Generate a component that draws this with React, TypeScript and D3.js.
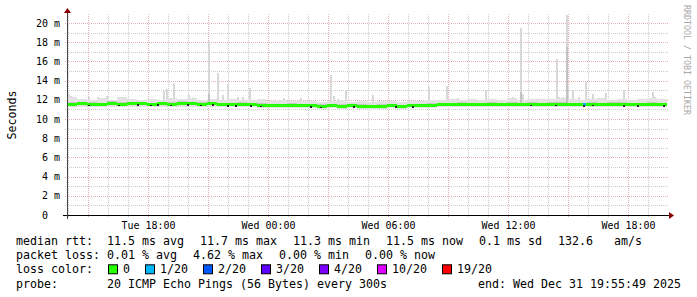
import React from "react";
import * as d3 from "d3";

// ---- data ----
const END = new Date(2025, 11, 31, 19, 55, 49);
const HOURS = 30;
const BIN_MIN = 30;
const Y_MAX_MS = 20.8333;

const medianMs = [
  11.55, 11.6, 11.55, 11.5, 11.6, 11.55, 11.6, 11.6, 11.55, 11.6, 11.55, 11.6,
  11.6, 11.55, 11.6, 11.55, 11.5, 11.55, 11.5, 11.45, 11.45, 11.4, 11.45, 11.4,
  11.4, 11.35, 11.4, 11.35, 11.4, 11.35, 11.3, 11.35, 11.4, 11.35, 11.4, 11.4,
  11.45, 11.5, 11.5, 11.55, 11.5, 11.5, 11.55, 11.5, 11.55, 11.5, 11.55, 11.5,
  11.55, 11.5, 11.55, 11.5, 11.55, 11.5, 11.55, 11.5, 11.55, 11.5, 11.5, 11.5,
];
const smokeHiMs = [
  12.3, 12.1, 12.0, 12.2, 12.0, 12.3, 12.1, 12.0, 12.1, 12.0, 12.2, 12.1,
  12.2, 12.0, 12.1, 12.0, 12.1, 12.0, 12.0, 12.1, 11.9, 12.0, 11.9, 11.9,
  11.9, 11.8, 11.9, 12.0, 11.8, 11.9, 11.8, 11.9, 11.9, 11.8, 11.9, 11.9,
  12.0, 12.0, 12.1, 12.0, 12.1, 12.0, 12.1, 12.0, 12.2, 12.0, 12.1, 12.1,
  12.1, 12.2, 12.1, 12.0, 12.1, 12.2, 12.0, 12.1, 12.0, 12.1, 12.2, 12.1,
];
const smokeMidMs = [
  11.8, 11.75, 11.75, 11.7, 11.85, 11.75, 11.8, 11.75, 11.7, 11.8, 11.75, 11.85,
  11.8, 11.75, 11.8, 11.7, 11.7, 11.75, 11.65, 11.65, 11.6, 11.6, 11.65, 11.55,
  11.6, 11.55, 11.55, 11.6, 11.55, 11.55, 11.5, 11.55, 11.6, 11.5, 11.55, 11.6,
  11.65, 11.7, 11.65, 11.75, 11.7, 11.65, 11.75, 11.7, 11.8, 11.7, 11.75, 11.7,
  11.75, 11.75, 11.7, 11.7, 11.8, 11.7, 11.75, 11.75, 11.7, 11.7, 11.75, 11.7,
];
const smokeLoMs = [
  11.25, 11.3, 11.25, 11.2, 11.3, 11.25, 11.3, 11.25, 11.25, 11.3, 11.2, 11.3,
  11.3, 11.25, 11.3, 11.2, 11.2, 11.25, 11.2, 11.15, 11.15, 11.1, 11.15, 11.1,
  11.1, 11.05, 11.1, 11.05, 11.1, 11.05, 11.0, 11.05, 11.1, 11.05, 11.1, 11.1,
  11.15, 11.2, 11.2, 11.25, 11.2, 11.2, 11.25, 11.2, 11.25, 11.2, 11.25, 11.2,
  11.25, 11.2, 11.25, 11.2, 11.25, 11.2, 11.25, 11.2, 11.25, 11.2, 11.2, 11.2,
];

// isolated smoke spikes (hours after start, ms)
const spikeHours = [
  0.05, 0.15, 1.05, 1.5, 1.95, 4.8, 4.95, 5.3, 6.05, 7.05, 7.5, 7.75, 8.0, 8.5,
  8.75, 9.1, 10.8, 11.65, 13.15, 13.3, 13.5, 13.9, 15.25, 18.05, 18.95, 19.5,
  20.9, 22.25, 22.65, 22.75, 23.05, 24.45, 24.55, 24.75, 24.95, 25.0, 25.25,
  25.55, 25.9, 26.25, 26.9, 27.8, 28.2, 29.25, 29.35,
];
const spikeMs = [
  12.6, 12.4, 12.3, 12.3, 12.4, 12.9, 13.1, 13.7, 12.5, 18.1, 14.8, 12.5, 13.6, 12.3,
  12.3, 13.2, 12.2, 12.2, 14.6, 12.4, 12.1, 13.0, 12.5, 13.3, 13.4, 12.2,
  13.0, 12.3, 19.5, 12.6, 12.1, 16.2, 12.3, 12.3, 21.5, 13.4, 13.0,
  12.3, 13.9, 12.6, 12.7, 13.0, 12.0, 12.8, 12.3,
];
const midSpikeHours = [7.05, 24.95, 22.65];
const midSpikeMs = [12.6, 17.5, 12.8];

const darkDotHours = [
  1.05, 2.55, 3.5, 4.15, 4.5, 5.15, 6.0, 6.65, 7.25, 8.0, 8.4, 9.15, 9.65,
  12.15, 12.65, 14.3, 16.4, 17.25, 23.15, 24.4, 25.8, 26.25, 27.8, 28.5, 29.8,
];

const lossEventHours = [25.8];
const lossEventLevel = [1];

const lossLabels = ["0", "1/20", "2/20", "3/20", "4/20", "10/20", "19/20"];
const lossColors = ["#26ff00", "#00b8ff", "#0059ff", "#5e00ff", "#7e00ff", "#dd00ff", "#ff0000"];

const medianStats = ["11.5 ms avg", "11.7 ms max", "11.3 ms min", "11.5 ms now", "0.1 ms sd", "132.6   am/s"];
const lossStats = ["0.01 % avg", "4.62 % max", "0.00 % min", "0.00 % now"];
const probeText = "20 ICMP Echo Pings (56 Bytes) every 300s";
const endText = "end: Wed Dec 31 19:55:49 2025";

// ---- layout ----
const W = 697, H = 297;
const X0 = 67, X1 = 667, YB = 215, YT = 15;
const MONO = "'DejaVu Sans Mono', monospace";
const CW = 7;
const LEG_FS = 11.63;
const PRE: React.CSSProperties = { whiteSpace: "pre" };

export default function App() {
  const start = d3.timeHour.offset(END, -HOURS);
  const x = d3.scaleTime().domain([start, END]).range([X0, X1]);
  const y = d3.scaleLinear().domain([0, Y_MAX_MS]).range([YB, YT]);
  const tAt = (h: number) => new Date(start.getTime() + h * 3600e3);
  const stepW = x(d3.timeMinute.offset(start, 5)) - x(start);

  const bins = medianMs.map((m, i) => ({
    t: d3.timeMinute.offset(start, i * BIN_MIN),
    m, hi: smokeHiMs[i], mid: smokeMidMs[i], lo: smokeLoMs[i],
  }));
  const series = [...bins, { ...bins[bins.length - 1], t: END }];
  const medAt = (h: number) => {
    const i = Math.min(bins.length - 1, Math.floor((h * 60) / BIN_MIN));
    return bins[i].m;
  };

  const outer = d3.area<any>().x((d) => x(d.t)).y0((d) => y(d.lo)).y1((d) => y(d.hi)).curve(d3.curveStepAfter);
  const inner = d3.area<any>().x((d) => x(d.t)).y0((d) => y(d.m) + 1.5).y1((d) => y(d.mid)).curve(d3.curveStepAfter);
  const medBand = d3.area<any>().x((d) => x(d.t)).y0((d) => y(d.m) + 1.5).y1((d) => y(d.m) - 1.5).curve(d3.curveStepAfter);

  const minorX = x.ticks(d3.timeHour.every(1)!);
  const majorX = x.ticks(d3.timeHour.every(3)!);
  const labelX = x.ticks(d3.timeHour.every(6)!);
  const majorXSet = new Set(majorX.map((t) => +t));
  const fmt = d3.timeFormat("%a %H:%M");
  const minorY = d3.range(1, 21, 2);
  const majorY = d3.range(0, 21, 2);

  const cx = (v: number) => Math.round(v) + 0.5;

  // legend positions
  const posMed: number[] = [];
  medianStats.reduce((acc, s) => { posMed.push(acc); return acc + s.length * CW + 16; }, 107);
  const posLoss: number[] = [];
  lossStats.reduce((acc, s) => { posLoss.push(acc); return acc + s.length * CW + 16; }, 107);
  const posBox: number[] = [];
  lossLabels.reduce((acc, s) => { posBox.push(acc); return acc + 30 + s.length * CW; }, 108);

  const base = [245, 259.2, 273.4, 287.6];

  return (
    <svg width={W} height={H} style={{ position: "absolute", left: 0, top: 0, background: "#fff" }}
      fontFamily={MONO}>
      <rect x={0} y={0} width={W} height={H} fill="#fff" />
      <defs>
        <clipPath id="plot"><rect x={X0} y={YT} width={X1 - X0} height={YB - YT} /></clipPath>
      </defs>

      {/* grid */}
      <g strokeWidth={1} strokeDasharray="1,1">
        {minorY.map((v) => (
          <line key={"hy" + v} x1={X0 - 2} x2={X1 + 2} y1={cx(y(v))} y2={cx(y(v))} stroke="#cccccc" />
        ))}
        {minorX.filter((t) => !majorXSet.has(+t)).map((t, i) => (
          <line key={"vx" + i} x1={cx(x(t))} x2={cx(x(t))} y1={YB + 2} y2={YT - 2} stroke="#cccccc" />
        ))}
        {majorY.filter((v) => v > 0).map((v) => (
          <line key={"my" + v} x1={X0 - 2} x2={X1 + 2} y1={cx(y(v))} y2={cx(y(v))} stroke="#e8b0b0" />
        ))}
        {majorX.map((t, i) => (
          <line key={"mx" + i} x1={cx(x(t))} x2={cx(x(t))} y1={YB + 2} y2={YT - 2} stroke="#e8b0b0" />
        ))}
      </g>

      {/* smoke */}
      <g clipPath="url(#plot)" shapeRendering="crispEdges">
        {spikeHours.map((h, i) => (
          <rect key={"s" + i} x={x(tAt(h))} width={stepW} y={y(Math.min(spikeMs[i], Y_MAX_MS + 1))}
            height={y(medAt(h)) - y(Math.min(spikeMs[i], Y_MAX_MS + 1))} fill="#d8d8d8" />
        ))}
        <path d={outer(series) || ""} fill="#e2e2e2" />
        {midSpikeHours.map((h, i) => (
          <rect key={"ms" + i} x={x(tAt(h))} width={stepW} y={y(midSpikeMs[i])}
            height={y(medAt(h)) - y(midSpikeMs[i])} fill="#c2c2c2" />
        ))}
        <path d={inner(series) || ""} fill="#c8c8c8" />
        <path d={medBand(series) || ""} fill={lossColors[0]} />
        {lossEventHours.map((h, i) => (
          <rect key={"l" + i} x={x(tAt(h))} width={stepW * 1.5} y={y(medAt(h)) - 1.5} height={3}
            fill={lossColors[lossEventLevel[i]]} />
        ))}
        {darkDotHours.map((h, i) => (
          <rect key={"d" + i} x={x(tAt(h))} width={2} y={y(medAt(h)) + 0.5} height={1.5} fill="#222" />
        ))}
      </g>

      {/* axes */}
      <g shapeRendering="crispEdges">
        <line x1={X0 - 4} x2={X1 + 4} y1={YB + 0.5} y2={YB + 0.5} stroke="#000" />
        <line x1={X0 + 0.5} x2={X0 + 0.5} y1={YB + 4} y2={YT - 4} stroke="#444" />
      </g>
      <path d={`M${X1 + 2},${YB - 3}L${X1 + 2},${YB + 4}L${X1 + 7},${YB + 0.5}Z`} fill="#8a0000" />
      <path d={`M${X0 - 3},${YT - 2}L${X0 + 4},${YT - 2}L${X0 + 0.5},${YT - 7}Z`} fill="#8a0000" />

      {/* tick labels */}
      <g fontSize={9.97} fill="#000">
        {majorY.map((v) => (
          <text key={"yl" + v} x={60} y={y(v) + 3.6} textAnchor="end" xmlSpace="preserve" style={PRE}>
            {v === 0 ? "0  " : `${v} m`}
          </text>
        ))}
        {labelX.map((t, i) => (
          <text key={"xl" + i} x={x(t)} y={228.5} textAnchor="middle">{fmt(t)}</text>
        ))}
      </g>

      {/* unit label */}
      <text transform={`translate(15.5,${(YT + YB) / 2}) rotate(-90)`} textAnchor="middle" fontSize={LEG_FS} fill="#000">
        Seconds
      </text>

      {/* watermark */}
      <text transform="translate(684,5) rotate(90)" fontSize={8.3} fill="#a8a8a8">RRDTOOL / TOBI OETIKER</text>

      {/* legend */}
      <g fontSize={LEG_FS} fill="#000">
        <text x={16} y={base[0]}>median rtt:</text>
        {medianStats.map((s, i) => (
          <text key={"md" + i} x={posMed[i]} y={base[0]} xmlSpace="preserve" style={PRE}>{s}</text>
        ))}
        <text x={16} y={base[1]}>packet loss:</text>
        {lossStats.map((s, i) => (
          <text key={"ls" + i} x={posLoss[i]} y={base[1]} xmlSpace="preserve" style={PRE}>{s}</text>
        ))}
        <text x={16} y={base[2]}>loss color:</text>
        {lossLabels.map((s, i) => (
          <g key={"lc" + i}>
            <rect x={posBox[i] + 0.5} y={base[2] - 8.6} width={9} height={9} fill={lossColors[i]} stroke="#000" strokeWidth={1} />
            <text x={posBox[i] + 15} y={base[2]}>{s}</text>
          </g>
        ))}
        <text x={16} y={base[3]}>probe:</text>
        <text x={107} y={base[3]}>{probeText}</text>
        <text x={681} y={base[3]} textAnchor="end">{endText}</text>
      </g>
    </svg>
  );
}
